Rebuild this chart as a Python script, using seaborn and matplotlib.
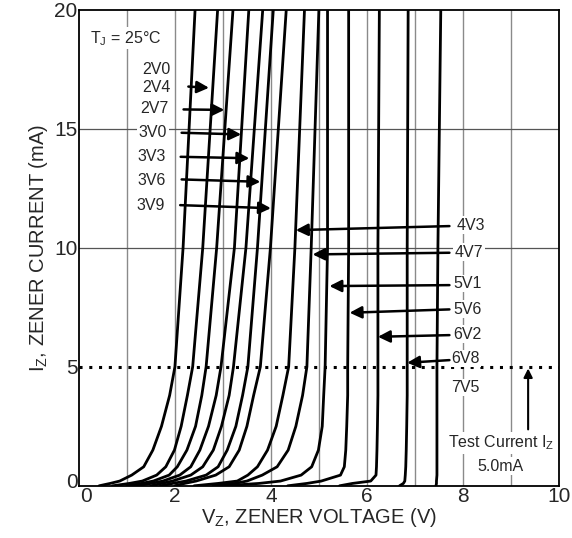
import numpy as np
import pandas as pd
import matplotlib
matplotlib.use("Agg")
import matplotlib.pyplot as plt
import matplotlib.transforms as mtransforms
import seaborn as sns

# ---- data ----
diodes = ["2V0", "2V4", "2V7", "3V0", "3V3", "3V6", "3V9",
          "4V3", "4V7", "5V1", "5V6", "6V2", "6V8", "7V5"]
current_levels = [0, 0.1, 0.2, 0.45, 0.8, 1.5, 2.5, 3.8, 5, 10, 20]  # mA
v_2v0 = [0.42, 0.65, 0.85, 1.10, 1.35, 1.54, 1.72, 1.89, 2.00, 2.17, 2.42]
v_2v4 = [0.70, 1.05, 1.32, 1.62, 1.81, 1.99, 2.13, 2.26, 2.37, 2.58, 2.89]
v_2v7 = [1.00, 1.30, 1.55, 1.88, 2.05, 2.25, 2.43, 2.56, 2.65, 2.87, 3.21]
v_3v0 = [1.20, 1.50, 1.75, 2.10, 2.33, 2.52, 2.70, 2.86, 2.96, 3.24, 3.54]
v_3v3 = [1.50, 1.72, 1.95, 2.33, 2.58, 2.80, 2.97, 3.13, 3.22, 3.48, 3.83]
v_3v6 = [1.70, 1.95, 2.23, 2.65, 2.90, 3.09, 3.27, 3.41, 3.52, 3.72, 4.05]
v_3v9 = [2.00, 2.20, 2.44, 2.85, 3.13, 3.34, 3.50, 3.64, 3.78, 3.99, 4.32]
v_4v3 = [2.40, 2.90, 3.30, 3.52, 3.72, 3.93, 4.11, 4.25, 4.37, 4.50, 4.70]
v_4v7 = [2.80, 3.25, 3.50, 3.82, 4.13, 4.36, 4.52, 4.66, 4.75, 4.84, 5.00]
v_5v1 = [3.00, 3.75, 4.20, 4.63, 4.85, 4.99, 5.07, 5.10, 5.13, 5.18, 5.18]
v_5v6 = [4.35, 4.75, 5.05, 5.45, 5.53, 5.56, 5.58, 5.60, 5.60, 5.62, 5.62]
v_6v2 = [5.43, 5.70, 6.08, 6.19, 6.20, 6.21, 6.22, 6.23, 6.23, 6.23, 6.26]
v_6v8 = [6.68, 6.76, 6.79, 6.80, 6.81, 6.82, 6.83, 6.84, 6.84, 6.84, 6.86]
v_7v5 = [7.44, 7.45, 7.45, 7.46, 7.46, 7.46, 7.46, 7.46, 7.46, 7.48, 7.54]
test_current = 5.0  # mA
x_ticks = [0, 2, 4, 6, 8, 10]
y_ticks = [0, 5, 10, 15, 20]

voltages = [v_2v0, v_2v4, v_2v7, v_3v0, v_3v3, v_3v6, v_3v9,
            v_4v3, v_4v7, v_5v1, v_5v6, v_6v2, v_6v8, v_7v5]

rows = []
for name, vs in zip(diodes, voltages):
    for order, (v, i) in enumerate(zip(vs, current_levels)):
        rows.append({"diode": name, "order": order, "V": v, "I": i})
df = pd.DataFrame(rows)

# ---- style ----
sns.set_style("white")
plt.rcParams["font.family"] = ["Liberation Sans", "DejaVu Sans"]
plt.rcParams["mathtext.default"] = "regular"

fig = plt.figure(figsize=(5.72, 5.38), dpi=100)
ax = fig.add_axes([0.138, 0.097, 0.839, 0.885])

# grid
for xv in range(1, 10):
    ax.axvline(xv, color="#8a8a8a", lw=1.0, zorder=0)
for yv in (10, 15):
    ax.axhline(yv, color="#555555", lw=0.9, zorder=0)

sns.lineplot(data=df, x="V", y="I", units="diode", estimator=None, sort=False,
             color="black", lw=2.0, ax=ax, zorder=3)

ax.axhline(test_current, color="black", lw=2.2, ls=(0, (1.0, 2.2)), zorder=4)

ax.set_xlim(0, 10)
ax.set_ylim(0, 20)
ax.set_xticks(x_ticks)
ax.set_yticks(y_ticks)
ax.tick_params(length=0, labelsize=15, pad=1)
for s in ax.spines.values():
    s.set_color("black")
    s.set_linewidth(1.3)
ax.set_xlabel("V$_Z$, ZENER VOLTAGE (V)", fontsize=14.5, labelpad=0)
ax.set_ylabel("I$_Z$, ZENER CURRENT (mA)", fontsize=14.5, labelpad=3)

# nudge the two corner "0" labels apart, as in the reference
fig.canvas.draw()
xl0 = ax.get_xticklabels()[0]
xl0.set_transform(xl0.get_transform() + mtransforms.ScaledTranslation(7 / 100, 0, fig.dpi_scale_trans))
yl0 = ax.get_yticklabels()[0]
yl0.set_transform(yl0.get_transform() + mtransforms.ScaledTranslation(0, 5 / 100, fig.dpi_scale_trans))

fs = 11.5
bb = dict(facecolor="white", edgecolor="none", pad=1.0)
ax.text(0.23, 18.8, "T$_J$ = 25°C", fontsize=fs, va="center", ha="left", bbox=bb, zorder=5)

arrow_props = dict(arrowstyle="-|>", color="black", lw=1.8,
                   mutation_scale=18, shrinkA=0, shrinkB=0)

# left labels
left_text = [(1.32, 17.5), (1.31, 16.72), (1.27, 15.86), (1.25, 14.83),
             (1.22, 13.82), (1.22, 12.84), (1.20, 11.79)]
left_arrows = [None, ((2.28, 16.77), (2.71, 16.72)), ((2.18, 15.81), (3.03, 15.79)),
               ((2.14, 14.83), (3.38, 14.76)), ((2.12, 13.82), (3.55, 13.76)),
               ((2.14, 12.87), (3.78, 12.77)), ((2.11, 11.79), (4.00, 11.66))]
for name, (tx, ty), arr in zip(diodes[:7], left_text, left_arrows):
    ax.text(tx, ty, name, fontsize=fs, ha="left", va="center", bbox=bb, zorder=5)
    if arr is not None:
        ax.annotate("", xy=arr[1], xytext=arr[0], arrowprops=arrow_props, zorder=6)

# right labels
right_text = [(7.86, 10.95), (7.83, 9.81), (7.80, 8.50), (7.80, 7.41),
              (7.80, 6.36), (7.76, 5.35), (7.75, 4.13)]
right_arrows = [((7.72, 10.91), (4.52, 10.74)), ((7.72, 9.79), (4.87, 9.72)),
                ((7.72, 8.43), (5.22, 8.39)), ((7.72, 7.41), (5.64, 7.27)),
                ((7.72, 6.33), (6.23, 6.26)), ((7.72, 5.28), (6.84, 5.17)), None]
for name, (tx, ty), arr in zip(diodes[7:], right_text, right_arrows):
    ax.text(tx, ty, name, fontsize=fs, ha="left", va="center", bbox=bb, zorder=5)
    if arr is not None:
        ax.annotate("", xy=arr[1], xytext=arr[0], arrowprops=arrow_props, zorder=6)

# test current annotation
ax.annotate("", xy=(9.36, 4.93), xytext=(9.36, 2.37),
            arrowprops=dict(arrowstyle="-|>", color="black", lw=1.5,
                            mutation_scale=13, shrinkA=0, shrinkB=0), zorder=6)
ax.text(8.80, 1.81, "Test Current I$_Z$", fontsize=fs, ha="center", va="center",
        bbox=bb, zorder=5)
ax.text(8.79, 0.83, "5.0mA", fontsize=fs, ha="center", va="center", bbox=bb, zorder=5)

fig.savefig("out.png", dpi=100)
